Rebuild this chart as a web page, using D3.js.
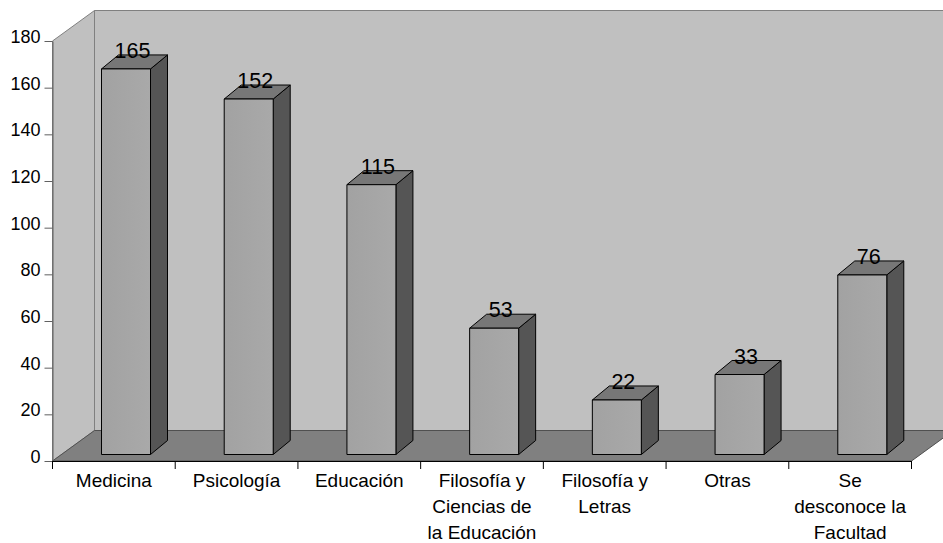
<!DOCTYPE html>
<html>
<head>
<meta charset="utf-8">
<script src="https://cdn.jsdelivr.net/npm/d3@7"></script>
<style>
  body { margin: 0; background: #fff; overflow: hidden; }
  text { font-family: "Liberation Sans", sans-serif; fill: #000; }
</style>
</head>
<body>
<script>
const categories = ['Medicina', 'Psicología', 'Educación', 'Filosofía y Ciencias de la Educación', 'Filosofía y Letras', 'Otras', 'Se desconoce la Facultad'];
const categoryLines = [['Medicina'], ['Psicología'], ['Educación'], ['Filosofía y', 'Ciencias de', 'la Educación'], ['Filosofía y', 'Letras'], ['Otras'], ['Se', 'desconoce la', 'Facultad']];
const values = [165, 152, 115, 53, 22, 33, 76];
const yTicks = [0, 20, 40, 60, 80, 100, 120, 140, 160, 180];

const width = 943;
const height = 543;

// depth of the floor, and depth of one bar
const depthX = 42, depthY = 30.5;
const barDX = 17, barDY = 14;
const barBottom = 454.5;

const x = d3.scaleBand().domain(categories).range([52.5, 911.5]);
const y = d3.scaleLinear().domain([0, 180]).range([461, 41]);
// the bars sit partway into the floor, so they run on their own scale
const yBar = d3.scaleLinear().domain([0, 180]).range([450.9, 34.2]);

const svg = d3.select('body').append('svg')
  .attr('width', width)
  .attr('height', height)
  .style('display', 'block');

const grad = svg.append('defs').append('linearGradient')
  .attr('id', 'front').attr('x1', 0).attr('x2', 1).attr('y1', 0).attr('y2', 0);
grad.append('stop').attr('offset', '0%').attr('stop-color', '#a2a2a2');
grad.append('stop').attr('offset', '100%').attr('stop-color', '#a9a9a9');

const poly = (pts) => 'M' + pts.map(p => p.join(',')).join('L') + 'Z';
const [x0, x1] = x.range();
const yZero = y(0), yTop = y(180);

// back wall
svg.append('path')
  .attr('d', poly([[x0 + depthX, yTop - depthY], [x1 + depthX, yTop - depthY], [x1 + depthX, yZero - depthY], [x0 + depthX, yZero - depthY]]))
  .attr('fill', '#c0c0c0').attr('stroke', '#808080');
// left wall
svg.append('path')
  .attr('d', poly([[x0, yTop], [x0 + depthX, yTop - depthY], [x0 + depthX, yZero - depthY], [x0, yZero]]))
  .attr('fill', '#c0c0c0').attr('stroke', '#808080');
// floor
svg.append('path')
  .attr('d', poly([[x0, yZero], [x0 + depthX, yZero - depthY], [x1 + depthX, yZero - depthY], [x1, yZero]]))
  .attr('fill', '#808080').attr('stroke', '#505050');

// y axis
const yAxis = svg.append('g')
  .attr('transform', `translate(${x0},0)`)
  .call(d3.axisLeft(y).tickValues(yTicks).tickSize(8).tickPadding(4).tickSizeOuter(0));
yAxis.select('.domain').attr('stroke', '#606060');
yAxis.selectAll('line').attr('stroke', '#606060');
yAxis.selectAll('text').attr('font-size', 18).attr('fill', '#000').attr('dy', '0.09em')
  .style('font-family', '"Liberation Sans", sans-serif');

// x axis, ticks go on the band edges
const xAxis = svg.append('g')
  .attr('transform', `translate(0,${yZero})`)
  .call(d3.axisBottom(x).tickSize(0).tickFormat(''));
xAxis.select('.domain').attr('stroke', '#000').attr('stroke-width', 1.2);
xAxis.selectAll('.edge')
  .data(categories.map(c => x(c)).concat([x1]))
  .enter().append('line')
  .attr('class', 'edge')
  .attr('x1', d => d).attr('x2', d => d)
  .attr('y1', 0).attr('y2', 8)
  .attr('stroke', '#000');

// category labels
const labels = svg.selectAll('.cat')
  .data(categories)
  .enter().append('text')
  .attr('class', 'cat')
  .attr('text-anchor', 'middle')
  .attr('font-size', 19);
labels.selectAll('tspan')
  .data((d, i) => categoryLines[i])
  .enter().append('tspan')
  .attr('x', function () { const c = d3.select(this.parentNode).datum(); return x(c) + x.bandwidth() / 2; })
  .attr('y', (d, i) => 487 + i * 26)
  .text(d => d);

// bars
const bars = svg.selectAll('.bar')
  .data(values)
  .enter().append('g')
  .attr('class', 'bar')
  .attr('stroke', '#000')
  .attr('stroke-linejoin', 'round');

const barW = 49, barOff = 49;
const left = (d, i) => x(categories[i]) + barOff;

bars.append('path') // side
  .attr('fill', '#555555')
  .attr('d', (d, i) => {
    const r = left(d, i) + barW;
    return poly([[r, yBar(d)], [r + barDX, yBar(d) - barDY], [r + barDX, barBottom - barDY], [r, barBottom]]);
  });
bars.append('path') // top
  .attr('fill', '#777777')
  .attr('d', (d, i) => {
    const l = left(d, i);
    return poly([[l, yBar(d)], [l + barDX, yBar(d) - barDY], [l + barW + barDX, yBar(d) - barDY], [l + barW, yBar(d)]]);
  });
bars.append('rect') // front
  .attr('fill', 'url(#front)')
  .attr('x', left)
  .attr('y', d => yBar(d))
  .attr('width', barW)
  .attr('height', d => barBottom - yBar(d));

// value labels
svg.selectAll('.val')
  .data(values)
  .enter().append('text')
  .attr('class', 'val')
  .attr('text-anchor', 'middle')
  .attr('font-size', 21.5)
  .attr('x', (d, i) => left(d, i) + 31)
  .attr('y', d => yBar(d) - 11)
  .text(d => d);
</script>
</body>
</html>
